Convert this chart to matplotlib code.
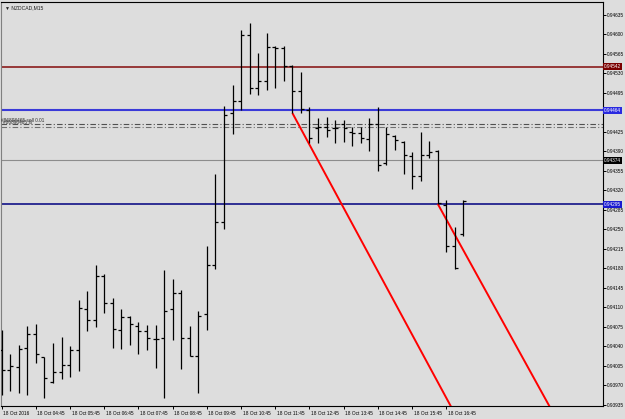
import matplotlib

matplotlib.use("Agg")
import matplotlib.pyplot as plt
import matplotlib.transforms as mtransforms

# ---- data (NZDCAD, M15, 18 Oct 2016) --------------------------------------
OPEN = [0.94034, 0.93998, 0.94003, 0.94037, 0.94062, 0.94021, 0.93976, 0.93994,
        0.94007, 0.94034, 0.94107, 0.94088, 0.94167, 0.94118, 0.94070, 0.94093,
        0.94077, 0.94068, 0.94053, 0.94055, 0.94107, 0.94136, 0.94055, 0.94023,
        0.94098, 0.94186, 0.94263, 0.94459, 0.94481, 0.94599, 0.94504, 0.94517,
        0.94578, 0.94576, 0.94543, 0.94499, 0.94465, 0.94432, 0.94434, 0.94432,
        0.94439, 0.94425, 0.94423, 0.94412, 0.94439, 0.94369, 0.94418, 0.94407,
        0.94382, 0.94346, 0.94384, 0.94391, 0.94294, 0.94220, 0.94242]
HIGH = [0.94070, 0.94027, 0.94043, 0.94077, 0.94080, 0.94021, 0.94046, 0.94057,
        0.94041, 0.94123, 0.94140, 0.94186, 0.94170, 0.94127, 0.94107, 0.94095,
        0.94084, 0.94079, 0.94079, 0.94177, 0.94161, 0.94141, 0.94077, 0.94104,
        0.94220, 0.94350, 0.94472, 0.94509, 0.94608, 0.94621, 0.94567, 0.94603,
        0.94579, 0.94579, 0.94545, 0.94533, 0.94470, 0.94450, 0.94452, 0.94447,
        0.94447, 0.94434, 0.94434, 0.94450, 0.94470, 0.94434, 0.94420, 0.94409,
        0.94389, 0.94425, 0.94409, 0.94393, 0.94303, 0.94255, 0.94303]
LOW = [0.93953, 0.93960, 0.93957, 0.93953, 0.94010, 0.93948, 0.93974, 0.93982,
       0.93985, 0.93996, 0.94068, 0.94075, 0.94100, 0.94037, 0.94036, 0.94043,
       0.94027, 0.94034, 0.94001, 0.93948, 0.94052, 0.94000, 0.94023, 0.93957,
       0.94070, 0.94179, 0.94251, 0.94421, 0.94465, 0.94493, 0.94491, 0.94500,
       0.94504, 0.94517, 0.94459, 0.94459, 0.94405, 0.94405, 0.94416, 0.94405,
       0.94407, 0.94400, 0.94405, 0.94391, 0.94355, 0.94366, 0.94393, 0.94350,
       0.94323, 0.94337, 0.94378, 0.94296, 0.94210, 0.94179, 0.94238]
CLOSE = [0.93998, 0.94005, 0.94036, 0.94062, 0.94027, 0.93983, 0.93994, 0.94007,
         0.94034, 0.94109, 0.94088, 0.94167, 0.94118, 0.94071, 0.94093, 0.94080,
         0.94068, 0.94055, 0.94053, 0.94104, 0.94136, 0.94055, 0.94023, 0.94095,
         0.94186, 0.94263, 0.94456, 0.94481, 0.94599, 0.94504, 0.94517, 0.94578,
         0.94576, 0.94543, 0.94499, 0.94466, 0.94414, 0.94434, 0.94429, 0.94432,
         0.94432, 0.94423, 0.94414, 0.94439, 0.94366, 0.94421, 0.94411, 0.94384,
         0.94346, 0.94384, 0.94389, 0.94298, 0.94220, 0.94181, 0.94301]

XTICK_BARS = [0, 4, 8, 12, 16, 20, 24, 28, 32, 36, 40, 44, 48, 52]
XTICK_LABELS = ["18 Oct 2016", "18 Oct 04:45", "18 Oct 05:45", "18 Oct 06:45",
                "18 Oct 07:45", "18 Oct 08:45", "18 Oct 09:45", "18 Oct 10:45",
                "18 Oct 11:45", "18 Oct 12:45", "18 Oct 13:45", "18 Oct 14:45",
                "18 Oct 15:45", "18 Oct 16:45"]
YTICKS = [0.94635, 0.94600, 0.94565, 0.94530, 0.94495, 0.94460, 0.94425,
          0.94390, 0.94355, 0.94320, 0.94285, 0.94250, 0.94215, 0.94180,
          0.94145, 0.94110, 0.94075, 0.94040, 0.94005, 0.93970, 0.93935]
# the 0.94460 label sits under the 0.94464 line box on the chart
YTICK_LABELS = [f"{v:.5f}" if v != 0.94460 else "" for v in YTICKS]

# horizontal lines: price, line colour, label box colour, width
HLINE_PRICES = [0.94542, 0.94464, 0.94374, 0.94295]
HLINE_COLORS = ["#8b1c1c", "#3a3ad8", "#8c8c8c", "#000080"]
HLINE_BOX = ["#7a0000", "#2a2ae0", "#000000", "#1a1ad0"]
HLINE_WIDTHS = [1.2, 1.5, 0.8, 1.1]

# order lines (dash-dot)
ORDER_PRICES = [0.94439, 0.94434]

# trend lines, two points each (bar index, price)
TREND1 = [(34, 0.94459), (39, 0.94317)]
TREND2 = [(51, 0.94296), (56, 0.94157)]

BG = "#dddddd"
FONT = ["Liberation Sans", "DejaVu Sans"]
FS = 3.4

plt.rcParams["font.family"] = FONT

fig = plt.figure(figsize=(6.25, 4.19), dpi=100, facecolor=BG)
ax = fig.add_axes([1 / 625, 13 / 419, 602 / 625, 404 / 419], facecolor=BG)

n = len(OPEN)
xs = list(range(n))
tick = 0.35

# OHLC bars
ax.vlines(xs, LOW, HIGH, color="black", lw=0.9, zorder=4)
ax.hlines(OPEN, [x - tick for x in xs], xs, color="black", lw=0.9, zorder=4)
ax.hlines(CLOSE, xs, [x + tick for x in xs], color="black", lw=0.9, zorder=4)

# horizontal price lines
for p, c, w in zip(HLINE_PRICES, HLINE_COLORS, HLINE_WIDTHS):
    ax.axhline(p, color=c, lw=w, zorder=2)

ytrans = mtransforms.blended_transform_factory(ax.transAxes, ax.transData)

for p, c in zip(ORDER_PRICES, ["#505050", "#707070"]):
    ax.axhline(p, color=c, lw=0.8, dashes=(5, 2, 1, 2), zorder=2)
ax.text(0.0, ORDER_PRICES[0] + 0.00002, "#86898465 sell 0.01", fontsize=FS,
        color="#303030", ha="left", va="bottom", transform=ytrans, zorder=3)
ax.text(0.004, ORDER_PRICES[0] - 0.00002, "#86898465 sl", fontsize=FS,
        color="#303030", ha="left", va="bottom", transform=ytrans, zorder=3)

# trend lines (rays, clipped by the axes)
for (x0, y0), (x1, y1) in [TREND1, TREND2]:
    slope = (y1 - y0) / (x1 - x0)
    xe = 75
    ax.plot([x0, xe], [y0, y0 + slope * (xe - x0)], color="#ff0000", lw=1.4,
            solid_capstyle="butt", zorder=3)

ax.set_xlim(-0.08, 70.33)
ax.set_ylim(0.939332, 0.946583)

# x axis
ax.set_xticks(XTICK_BARS)
ax.set_xticklabels(XTICK_LABELS, fontsize=FS)
ax.tick_params(axis="x", direction="out", length=2.5, width=0.7, pad=1.2)
shift = mtransforms.ScaledTranslation(1.5 / 100, 0, fig.dpi_scale_trans)
for lab in ax.get_xticklabels():
    lab.set_ha("left")
    lab.set_transform(lab.get_transform() + shift)

# y axis on the right
ax.yaxis.tick_right()
ax.set_yticks(YTICKS)
ax.set_yticklabels(YTICK_LABELS, fontsize=FS)
ax.tick_params(axis="y", direction="out", length=2.0, width=0.7, pad=0.8)

for sp in ax.spines.values():
    sp.set_color("black")
    sp.set_linewidth(0.8)
ax.spines["left"].set_color("#808080")

# price labels for the horizontal lines
for p, bc in zip(HLINE_PRICES, HLINE_BOX):
    ax.text(1.002, p, f"{p:.5f}", transform=ytrans, fontsize=FS, color="white",
            ha="left", va="center", clip_on=False, zorder=6,
            bbox=dict(boxstyle="square,pad=0.2", facecolor=bc, edgecolor="none"))

# symbol caption
ax.text(0.006, 0.992, "\u25bc NZDCAD,M15", transform=ax.transAxes, fontsize=3.6,
        color="#202020", ha="left", va="top", zorder=6)

fig.savefig("out.png", dpi=100, facecolor=BG)
